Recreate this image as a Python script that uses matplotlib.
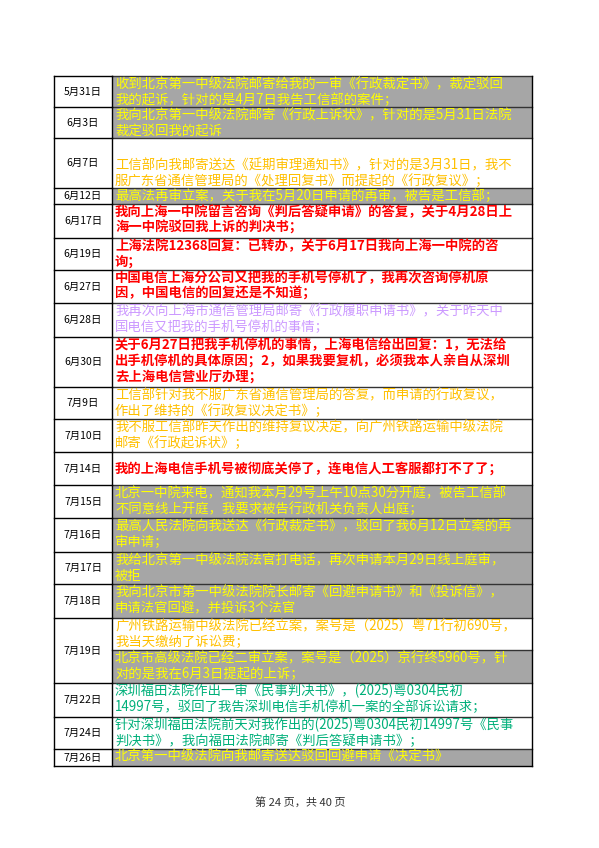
import matplotlib.pyplot as plt
from matplotlib.patches import Rectangle

plt.rcParams['font.family'] = ['Noto Sans CJK SC', 'DejaVu Sans']

GRAY = '#a6a6a6'
YEL = '#ffff00'
ORG = '#ffc000'
RED = '#ff0000'
LAV = '#cc99ff'
GRN = '#00b07a'

dates = ['5月31日', '6月3日', '6月7日', '6月12日', '6月17日', '6月19日', '6月27日',
         '6月28日', '6月30日', '7月9日', '7月10日', '7月14日', '7月15日', '7月16日',
         '7月17日', '7月18日', '7月19日', '7月22日', '7月24日', '7月26日']
# row borders in pixels (one extra for the end)
edges = [76, 107, 138, 188, 204, 238, 270, 303, 337, 387, 419, 452, 485, 518,
         552, 584, 618, 683, 717, 749, 766]

# content cells: (top, bottom, fill, text colour, first line offset or None, lines)
cells = [
    (76, 107, GRAY, YEL, None, ['收到北京第一中级法院邮寄给我的一审《行政裁定书》，裁定驳回', '我的起诉，针对的是4月7日我告工信部的案件；']),
    (107, 138, GRAY, YEL, None, ['我向北京第一中级法院邮寄《行政上诉状》，针对的是5月31日法院', '裁定驳回我的起诉']),
    (138, 188, 'white', ORG, 165, ['工信部向我邮寄送达《延期审理通知书》，针对的是3月31日，我不', '服广东省通信管理局的《处理回复书》而提起的《行政复议》；']),
    (188, 204, GRAY, YEL, None, ['最高法再审立案，关于我在5月20日申请的再审，被告是工信部；']),
    (204, 238, 'white', RED, None, ['我向上海一中院留言咨询《判后答疑申请》的答复，关于4月28日上', '海一中院驳回我上诉的判决书；']),
    (238, 270, 'white', RED, None, ['上海法院12368回复：已转办，关于6月17日我向上海一中院的咨', '询；']),
    (270, 303, 'white', RED, None, ['中国电信上海分公司又把我的手机号停机了，我再次咨询停机原', '因，中国电信的回复还是不知道；']),
    (303, 337, 'white', LAV, None, ['我再次向上海市通信管理局邮寄《行政履职申请书》，关于昨天中', '国电信又把我的手机号停机的事情；']),
    (337, 387, 'white', RED, None, ['关于6月27日把我手机停机的事情，上海电信给出回复：1，无法给', '出手机停机的具体原因；2，如果我要复机，必须我本人亲自从深圳', '去上海电信营业厅办理；']),
    (387, 419, 'white', ORG, None, ['工信部针对我不服广东省通信管理局的答复，而申请的行政复议，', '作出了维持的《行政复议决定书》；']),
    (419, 452, 'white', ORG, None, ['我不服工信部昨天作出的维持复议决定，向广州铁路运输中级法院', '邮寄《行政起诉状》；']),
    (452, 485, 'white', RED, 470, ['我的上海电信手机号被彻底关停了，连电信人工客服都打不了了；']),
    (485, 518, GRAY, YEL, None, ['北京一中院来电，通知我本月29号上午10点30分开庭，被告工信部', '不同意线上开庭，我要求被告行政机关负责人出庭；']),
    (518, 552, GRAY, YEL, None, ['最高人民法院向我送达《行政裁定书》，驳回了我6月12日立案的再', '审申请；']),
    (552, 584, GRAY, YEL, None, ['我给北京第一中级法院法官打电话，再次申请本月29日线上庭审，', '被拒']),
    (584, 618, GRAY, YEL, None, ['我向北京市第一中级法院院长邮寄《回避申请书》和《投诉信》，', '申请法官回避，并投诉3个法官']),
    (618, 650, 'white', ORG, None, ['广州铁路运输中级法院已经立案，案号是（2025）粤71行初690号，', '我当天缴纳了诉讼费；']),
    (650, 683, GRAY, YEL, None, ['北京市高级法院已经二审立案，案号是（2025）京行终5960号，针', '对的是我在6月3日提起的上诉；']),
    (683, 717, 'white', GRN, None, ['深圳福田法院作出一审《民事判决书》，(2025)粤0304民初', '14997号，驳回了我告深圳电信手机停机一案的全部诉讼请求；']),
    (717, 749, 'white', GRN, None, ['针对深圳福田法院前天对我作出的(2025)粤0304民初14997号《民事', '判决书》，我向福田法院邮寄《判后答疑申请书》；']),
    (749, 766, GRAY, YEL, None, ['北京第一中级法院向我邮寄送达驳回回避申请《决定书》']),
]

X0, X1, X2 = 54, 112, 532

fig = plt.figure(figsize=(5.99, 8.48), dpi=100)
ax = fig.add_axes([0, 0, 1, 1])
ax.set_xlim(0, 599)
ax.set_ylim(848, 0)
ax.axis('off')

for top, bot, fill, col, first, lines in cells:
    r = Rectangle((X1, top), X2 - X1, bot - top, facecolor=fill, edgecolor='none')
    ax.add_patch(r)
    y = top + 8 if first is None else first
    for i, s in enumerate(lines):
        t = ax.text(X1 + 3, y + 16 * i, s, color=col, fontsize=9.6, va='center',
                    ha='left', fontweight='bold' if col == RED else 'normal')
        t.set_clip_path(r)
    ax.plot([X1, X2], [top, top], color='#333333', lw=1)

for i, d in enumerate(dates):
    ax.text((X0 + X1) / 2, (edges[i] + edges[i + 1]) / 2, d, fontsize=7.5,
            ha='center', va='center', color='black')
    ax.plot([X0, X1], [edges[i], edges[i]], color='black', lw=1)

ax.plot([X0, X2], [766, 766], color='black', lw=1)
for x in (X0, X1, X2):
    ax.plot([x, x], [76, 766], color='black', lw=1)

ax.text(300, 802, '第 24 页，共 40 页', fontsize=8, ha='center', va='center', color='#333333')

fig.savefig('out.png', dpi=100)
